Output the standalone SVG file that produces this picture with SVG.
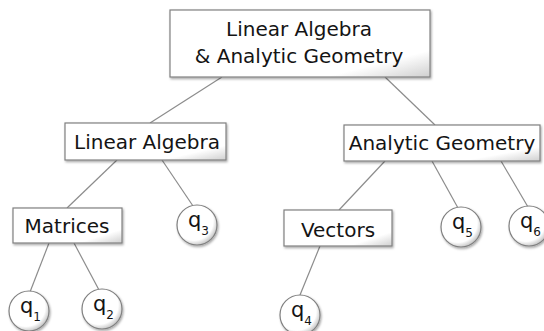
<svg xmlns="http://www.w3.org/2000/svg" width="544" height="331" viewBox="0 0 544 331">
<defs>
<linearGradient id="boxg" x1="0" y1="0" x2="1" y2="1">
<stop offset="0" stop-color="#ffffff"/>
<stop offset="0.8" stop-color="#ffffff"/>
<stop offset="1" stop-color="#cfcfcf"/>
</linearGradient>
<radialGradient id="circg" cx="0.42" cy="0.4" r="0.62">
<stop offset="0" stop-color="#ffffff"/>
<stop offset="0.78" stop-color="#ffffff"/>
<stop offset="1" stop-color="#c4c4c4"/>
</radialGradient>
<filter id="sh" x="-10%" y="-10%" width="125%" height="130%">
<feDropShadow dx="1" dy="1.5" stdDeviation="0.8" flood-color="#000" flood-opacity="0.35"/>
</filter>
</defs>
<style>
.box{fill:url(#boxg);stroke:#808080;stroke-width:1.2;filter:url(#sh)}
.circ{fill:url(#circg);stroke:#808080;stroke-width:1.2;filter:url(#sh)}
.t{font-family:"DejaVu Sans","Verdana",sans-serif;font-size:20px;fill:#141414;text-anchor:middle}
.q{font-family:"DejaVu Sans","Verdana",sans-serif;font-size:21px;fill:#141414}
.sub{font-size:12px}
.edge{stroke:#8c8c8c;stroke-width:1.2;fill:none}
</style>
<g id="connectors">
<line class="edge" x1="222" y1="77" x2="150" y2="123"/>
<line class="edge" x1="385" y1="77" x2="435" y2="125"/>
<line class="edge" x1="117" y1="160" x2="67" y2="208"/>
<line class="edge" x1="162" y1="160" x2="193" y2="206"/>
<line class="edge" x1="385" y1="161" x2="339" y2="210"/>
<line class="edge" x1="432" y1="161" x2="458" y2="208"/>
<line class="edge" x1="501" y1="161" x2="528" y2="207"/>
<line class="edge" x1="49" y1="243" x2="30" y2="292"/>
<line class="edge" x1="74" y1="243" x2="99" y2="290"/>
<line class="edge" x1="320" y1="246" x2="300" y2="295"/>
</g>
<g id="root">
<rect class="box" x="170" y="10" width="260" height="67"/>
<text class="t" x="299" y="36">Linear Algebra</text>
<text class="t" x="299" y="63">&amp; Analytic Geometry</text>
</g>
<g id="linear-algebra">
<rect class="box" x="65" y="123" width="161" height="37"/>
<text class="t" x="147" y="149">Linear Algebra</text>
</g>
<g id="analytic-geometry">
<rect class="box" x="344" y="125" width="196" height="36"/>
<text class="t" x="442" y="150">Analytic Geometry</text>
</g>
<g id="matrices">
<rect class="box" x="13" y="208" width="109" height="35"/>
<text class="t" x="67" y="233">Matrices</text>
</g>
<g id="vectors">
<rect class="box" x="284" y="210" width="108" height="36"/>
<text class="t" x="338" y="237">Vectors</text>
</g>
<g id="q1">
<circle class="circ" cx="29" cy="311" r="20"/>
<text class="q" x="20" y="313">q<tspan class="sub" dy="8">1</tspan></text>
</g>
<g id="q2">
<circle class="circ" cx="102" cy="309" r="20"/>
<text class="q" x="93" y="311">q<tspan class="sub" dy="8">2</tspan></text>
</g>
<g id="q3">
<circle class="circ" cx="197" cy="225" r="20"/>
<text class="q" x="188" y="227">q<tspan class="sub" dy="8">3</tspan></text>
</g>
<g id="q4">
<circle class="circ" cx="300" cy="315" r="20"/>
<text class="q" x="291" y="317">q<tspan class="sub" dy="8">4</tspan></text>
</g>
<g id="q5">
<circle class="circ" cx="461" cy="227" r="20"/>
<text class="q" x="452" y="229">q<tspan class="sub" dy="8">5</tspan></text>
</g>
<g id="q6">
<circle class="circ" cx="529" cy="226" r="20"/>
<text class="q" x="520" y="228">q<tspan class="sub" dy="8">6</tspan></text>
</g>
</svg>
